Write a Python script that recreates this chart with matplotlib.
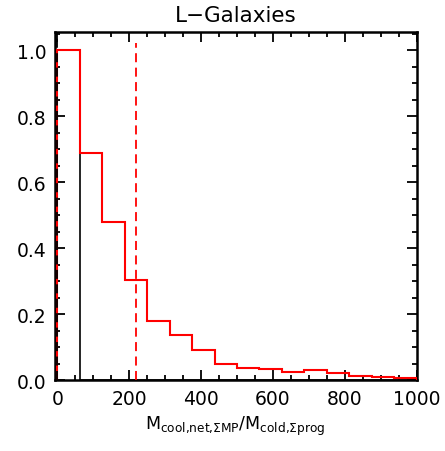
import numpy as np
import matplotlib
matplotlib.use("Agg")
import matplotlib.pyplot as plt
from matplotlib.ticker import MultipleLocator

# Data
bin_edges = np.linspace(0, 1000, 17)
red_values = [1.0, 0.689, 0.481, 0.305, 0.179, 0.139, 0.092, 0.049,
              0.039, 0.035, 0.027, 0.032, 0.022, 0.013, 0.010, 0.008]
black_values = [1.0] + [0.0] * 15
red_median = 220
black_median = 0

title = "L\u2212Galaxies"
xlabel = r"$\mathregular{M_{cool{,}net{,}\Sigma MP}/M_{cold{,}\Sigma prog}}$"
xticks = [0, 200, 400, 600, 800, 1000]
yticks = [0.0, 0.2, 0.4, 0.6, 0.8, 1.0]

fig = plt.figure(figsize=(4.45, 4.52), dpi=100)
ax = fig.add_axes([0.1225, 0.156, 0.8139, 0.7703])

ax.stairs(black_values, bin_edges, baseline=0, color="black", lw=1.2, zorder=2)
ax.stairs(red_values, bin_edges, baseline=0, color="#ff0000", lw=1.5, zorder=3)
ax.axvline(black_median, color="black", lw=1.3, ls=(0, (5, 3)), zorder=4)
ax.axvline(red_median, ymax=0.97, color="#ff0000", lw=1.3, ls=(0, (5, 3)), zorder=4)

ax.set_xlim(-8, 1000)
ax.set_ylim(0, 1.054)
ax.set_xticks(xticks)
ax.set_xticklabels([str(t) for t in xticks])
ax.set_yticks(yticks)
ax.set_yticklabels([f"{t:.1f}" for t in yticks])
ax.xaxis.set_minor_locator(MultipleLocator(50))
ax.yaxis.set_minor_locator(MultipleLocator(0.05))
ax.tick_params(which="both", direction="in", top=True, right=True, width=1.3,
               labelsize=13.5, pad=6)
ax.tick_params(which="major", length=7)
ax.tick_params(which="minor", length=3.5)
for s in ax.spines.values():
    s.set_linewidth(1.8)

ax.set_title(title, fontsize=15.5, pad=8)
ax.set_xlabel(xlabel, fontsize=12.5, labelpad=4)

fig.savefig("out.png", dpi=100)
